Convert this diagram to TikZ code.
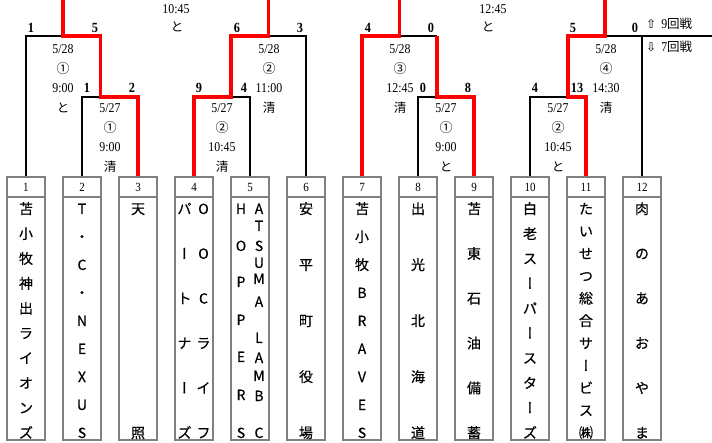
\documentclass[tikz,border=0pt]{standalone}
\usepackage{fontspec}
\usepackage{graphicx}
\setmainfont{Liberation Serif}
\newfontfamily\jp{Noto Sans CJK JP}
\newfontfamily\jpt[FakeBold=0.4]{Noto Sans CJK JP}
\newfontfamily\jpv[RawFeature=+vert,FakeBold=1.0]{Noto Sans CJK JP}
\newfontfamily\numf[FakeStretch=0.88]{Liberation Serif}
\newfontfamily\symf{DejaVu Sans}
\definecolor{bxgray}{RGB}{128,128,128}
\definecolor{winred}{RGB}{255,0,0}
\newcommand\vb{{\jpv ー}}
\newcommand\J[1]{{\jp\fontsize{12.5}{12.5}\selectfont #1}}
\tikzset{
 wl/.style={line width=1.1pt, black},
 rl/.style={line width=3.2pt, winred},
 hdr/.style={draw=bxgray, line width=1.6pt, minimum width=38pt, minimum height=20pt, inner sep=0pt, font=\numf\fontsize{12.5}{12.5}\selectfont},
 bdy/.style={draw=bxgray, line width=1.6pt, minimum width=38pt, minimum height=243pt, inner sep=0pt},
 tn/.style={font=\jpt\fontsize{14}{14}\selectfont, inner sep=0pt, anchor=base},
 sc/.style={font=\numf\bfseries\fontsize{14}{14}\selectfont, inner sep=0pt, anchor=base},
 info/.style={font=\numf\fontsize{13.5}{13.5}\selectfont, inner sep=0pt, anchor=base},
 circ/.style={font=\jp\fontsize{13}{13}\selectfont, inner sep=0pt, anchor=base},
 jinfo/.style={font=\jp\fontsize{12.5}{12.5}\selectfont, inner sep=0pt, anchor=base},
}
\newcommand\vcol[4]{%
  \foreach \ch [count=\k] in {#4} {
    \pgfmathsetmacro\yy{209+(\k-1)*224/(#3-1)}
    \node[tn] (#1-\k) at (#2,\yy+5) {\ch};
  }%
}
\newcommand\matchinfo[7]{%
  \node[info] (#1d) at (#2,#3) {#4};
  \node[circ] (#1c) at (#2,#3+19.5) {#5};
  \node[info] (#1t) at (#2,#3+39) {#6};
  \node[jinfo] (#1p) at (#2,#3+58.5) {#7};
}
\begin{document}
\begin{tikzpicture}[x=1pt,y=-1pt]
\useasboundingbox (0,0) rectangle (712,443);
\fill[white] (0,0) rectangle (712,443);

% boxes
\foreach \i in {1,...,12} {
  \pgfmathsetmacro\cx{26+56*(\i-1)}
  \node[hdr] (h\i) at (\cx,187) {\i};
  \node[bdy] (b\i) at (\cx,318.5) {};
}

% coordinates
\coordinate (m1) at (100.5,97); \coordinate (q1) at (63,36);    \coordinate (t1) at (63,-5);
\coordinate (m2) at (231,97);   \coordinate (q2) at (268.5,36); \coordinate (t2) at (268.5,-5);
\coordinate (m3) at (437,97);   \coordinate (q3) at (399.5,36); \coordinate (t3) at (399.5,-5);
\coordinate (r3) at (437,36);
\coordinate (m4) at (568,97);   \coordinate (q4) at (605,36);   \coordinate (t4) at (605,-5);
\coordinate (rend) at (712,36);

% black lines
\draw[wl] (h1.north) |- (q1);
\draw[wl] (h2.north) |- (m1);
\draw[wl] (h5.north) |- (m2);
\draw[wl] (h6.north) |- (q2);
\draw[wl] (h8.north) |- (m3);
\draw[wl] (q3) -- (r3);
\draw[wl] (h10.north) |- (m4);
\draw[wl] (h12.north) |- (q4);
\draw[wl] (h12.north |- q4) -- (rend);

% red lines
\draw[rl] (h3.north) |- (m1) |- (q1) -- (t1);
\draw[rl] (h4.north) |- (m2) |- (q2) -- (t2);
\draw[rl] (h7.north) |- (q3) -- (t3);
\draw[rl] (h9.north) |- (m3) -- (r3);
\draw[rl] (h11.north) |- (m4) |- (q4) -- (t4);

% scores
\node[sc] (sa1) at (31,33) {1};   \node[sc] (sa2) at (95,33) {5};
\node[sc] (sa3) at (87,93) {1};   \node[sc] (sa4) at (132,93) {2};
\node[sc] (sb1) at (199,93) {9};  \node[sc] (sb2) at (244,93) {4};
\node[sc] (sb3) at (237,33) {6};  \node[sc] (sb4) at (300,33) {3};
\node[sc] (sc1) at (368,33) {4};  \node[sc] (sc2) at (431,33) {0};
\node[sc] (sc3) at (423,93) {0};  \node[sc] (sc4) at (468,93) {8};
\node[sc] (sd1) at (535,93) {4};  \node[sc] (sd2) at (577,93) {13};
\node[sc] (sd3) at (573,33) {5};  \node[sc] (sd4) at (635,33) {0};

% match info
\matchinfo{ia}{63}{54}{5/28}{①}{9:00}{と}
\matchinfo{ib}{110}{113}{5/27}{①}{9:00}{清}
\matchinfo{ic}{222}{113}{5/27}{②}{10:45}{清}
\matchinfo{id}{269}{54}{5/28}{②}{11:00}{清}
\matchinfo{ie}{400}{54}{5/28}{③}{12:45}{清}
\matchinfo{if}{446}{113}{5/27}{①}{9:00}{と}
\matchinfo{ig}{558}{113}{5/27}{②}{10:45}{と}
\matchinfo{ih}{606}{54}{5/28}{④}{14:30}{清}

% top partial labels
\node[info] (tt1) at (176,13.5) {10:45};
\node[jinfo] (tt2) at (177,32) {と};
\node[info] (tt3) at (493,13.5) {12:45};
\node[jinfo] (tt4) at (488,32) {と};

% legend
\node[anchor=base west, inner sep=0pt] (lg1) at (646,29) {{\symf\fontsize{12}{12}\selectfont ⇧}\hspace{5pt}{\numf\fontsize{13.5}{13.5}\selectfont 9}\J{回戦}};
\node[anchor=base west, inner sep=0pt] (lg2) at (646,52) {{\symf\fontsize{12}{12}\selectfont ⇩}\hspace{5pt}{\numf\fontsize{13.5}{13.5}\selectfont 7}\J{回戦}};

% team names
\vcol{n1}{26}{10}{苫,小,牧,神,出,ラ,イ,オ,ン,ズ}
\vcol{n2}{82}{9}{T,・,C,・,N,E,X,U,S}
\vcol{n3}{138}{2}{天,照}
\vcol{n4a}{184.5}{6}{パ,\vb,ト,ナ,\vb,ズ}
\vcol{n4b}{203.5}{6}{O,O,C,ラ,イ,フ}
\foreach \ch/\yy [count=\k] in {H/209,O/246,P/282,P/320,E/357,R/395,S/433}
  \node[tn] (n5a-\k) at (241,\yy+5) {\ch};
\foreach \ch/\yy [count=\k] in {A/209,T/226,S/246,U/263,M/279,A/302,L/338,A/358,M/376,B/396,C/433}
  \node[tn] (n5b-\k) at (259,\yy+5) {\ch};
\vcol{n6}{306}{5}{安,平,町,役,場}
\vcol{n7}{362}{9}{苫,小,牧,B,R,A,V,E,S}
\vcol{n8}{418}{5}{出,光,北,海,道}
\vcol{n9}{474}{6}{苫,東,石,油,備,蓄}
\vcol{n10}{530}{10}{白,老,ス,\vb,パ,\vb,ス,タ,\vb,ズ}
\vcol{n11}{586}{11}{た,い,せ,つ,総,合,サ,\vb,ビ,ス,㈱}
\vcol{n12}{642}{6}{肉,の,あ,お,や,ま}
\end{tikzpicture}
\end{document}
